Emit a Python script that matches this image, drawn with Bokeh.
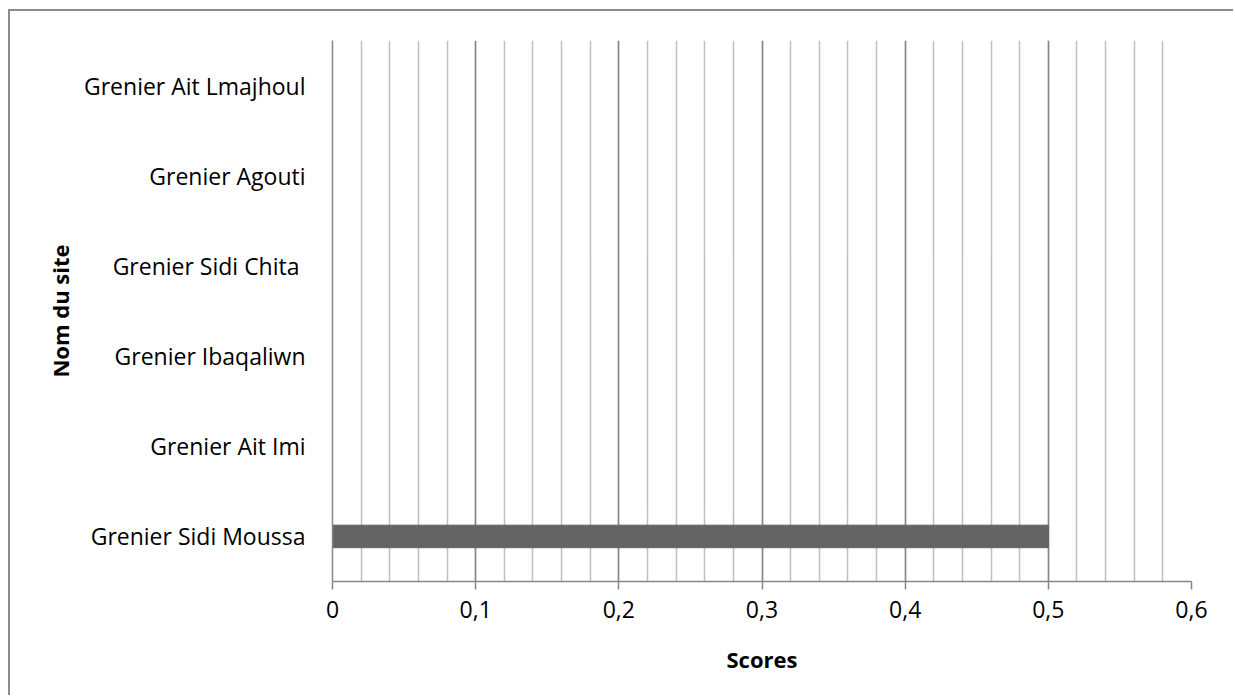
from bokeh.plotting import figure
from bokeh.models import FixedTicker, Range1d, CustomJSTickFormatter
from bokeh.embed import file_html
from bokeh.resources import INLINE

categories = ["Grenier Sidi Moussa", "Grenier Ait Imi", "Grenier Ibaqaliwn",
              "Grenier Sidi Chita ", "Grenier Agouti", "Grenier Ait Lmajhoul"]
scores = [0.5, 0, 0, 0, 0, 0]
major_ticks = [0, 0.1, 0.2, 0.3, 0.4, 0.5, 0.6]
minor_ticks = [round(i * 0.02, 2) for i in range(31)]

FONT = "Open Sans"

p = figure(width=1225, height=686, y_range=categories, x_range=Range1d(0, 0.6),
           output_backend="svg", toolbar_location=None,
           min_border_left=322, min_border_right=44, min_border_top=29, min_border_bottom=116)
p.styles = {"border-left": "2px solid #8c8c8c", "border-top": "2px solid #8c8c8c",
            "border-right": "none", "border-bottom": "none",
            "margin-left": "8px", "margin-top": "9px"}

p.hbar(y=categories, right=scores, left=0, height=0.25, color="#636363")

p.outline_line_color = None
p.ygrid.grid_line_color = None
p.xgrid.ticker = FixedTicker(ticks=major_ticks, minor_ticks=minor_ticks)
p.xgrid.grid_line_color = "#868686"
p.xgrid.grid_line_width = 1.5
p.xgrid.minor_grid_line_color = "#c0c0c0"
p.xgrid.minor_grid_line_width = 1.5

p.xaxis.ticker = FixedTicker(ticks=major_ticks)
p.xaxis.formatter = CustomJSTickFormatter(code="return tick.toFixed(1).replace('.', ',').replace(/^0,0$/, '0');")
p.xaxis.axis_line_color = "#868686"
p.xaxis.axis_line_width = 1.5
p.xaxis.major_tick_line_color = "#868686"
p.xaxis.major_tick_line_width = 1.5
p.xaxis.major_tick_out = 8
p.xaxis.major_tick_in = 0
p.xaxis.minor_tick_line_color = None
p.xaxis.major_label_standoff = 11
p.xaxis.axis_label = "Scores"
p.xaxis.axis_label_standoff = 23

p.yaxis.axis_line_color = "#868686"
p.yaxis.axis_line_width = 1.5
p.yaxis.major_tick_line_color = None
p.yaxis.minor_tick_line_color = None
p.yaxis.major_tick_out = 0
p.yaxis.major_tick_in = 0
p.yaxis.major_label_standoff = 27
p.yaxis.axis_label = "Nom du site"
p.yaxis.axis_label_standoff = 6

for ax in (p.xaxis, p.yaxis):
    ax.major_label_text_font = FONT
    ax.major_label_text_font_size = "23px"
    ax.major_label_text_color = "#000000"
    ax.axis_label_text_font = FONT
    ax.axis_label_text_font_size = "22px"
    ax.axis_label_text_font_style = "bold"
    ax.axis_label_text_color = "#000000"

open("out.html", "w").write(file_html(p, INLINE))
